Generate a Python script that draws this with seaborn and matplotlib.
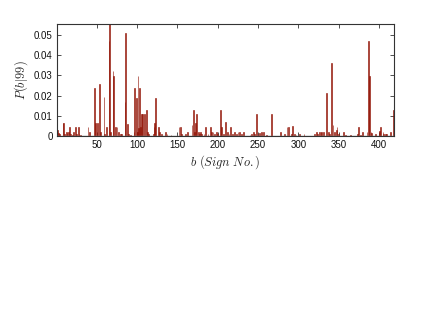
import numpy as np
import pandas as pd
import matplotlib
matplotlib.use("Agg")
import matplotlib.pyplot as plt
import seaborn as sns

# Non-zero probabilities P(b|99) by sign number b (others are zero)
sign_ids = [1, 2, 4, 8, 9, 10, 12, 13, 15, 16, 17, 20, 21, 24, 25, 27, 28, 30, 39, 41,
            47, 48, 51, 53, 55, 59, 60, 62, 65, 66, 67, 70, 71, 73, 75, 77, 79, 81, 85, 86,
            88, 89, 92, 96, 97, 99, 100, 101, 102, 103, 104, 105, 107, 109, 112, 113, 114,
            120, 121, 122, 123, 126, 128, 130, 135, 137, 142, 152, 154, 155, 160, 162, 168,
            170, 171, 172, 174, 176, 177, 179, 180, 183, 185, 188, 191, 192, 194, 196, 198,
            200, 203, 205, 207, 210, 212, 214, 216, 218, 221, 223, 225, 227, 229, 232, 240,
            242, 244, 246, 248, 250, 252, 254, 257, 260, 267, 278, 283, 286, 288, 291, 293,
            295, 297, 301, 307, 320, 322, 324, 326, 328, 329, 331, 335, 337, 339, 341, 343,
            345, 347, 348, 350, 356, 358, 365, 373, 375, 377, 380, 385, 387, 388, 390, 391,
            396, 400, 401, 402, 405, 406, 408, 409, 414, 418]
probs = [0.003, 0.0015, 0.001, 0.0065, 0.0065, 0.001, 0.002, 0.0015, 0.002, 0.0043, 0.001,
         0.0005, 0.002, 0.0043, 0.001, 0.0043, 0.001, 0.0005, 0.0043, 0.002,
         0.0236, 0.0065, 0.0065, 0.0256, 0.002, 0.0192, 0.001, 0.0043, 0.047, 0.0555, 0.002,
         0.032, 0.0297, 0.0043, 0.0043, 0.002, 0.001, 0.001, 0.017, 0.0511,
         0.006, 0.001, 0.0005, 0.002, 0.0236, 0.019, 0.002, 0.0298, 0.004, 0.0236, 0.0043,
         0.0107, 0.0107, 0.0107, 0.0128, 0.002, 0.001,
         0.001, 0.0043, 0.0065, 0.019, 0.0043, 0.002, 0.001, 0.002, 0.001, 0.0005, 0.0043,
         0.0043, 0.001, 0.001, 0.002, 0.0055,
         0.0128, 0.002, 0.0065, 0.0107, 0.002, 0.001, 0.002, 0.001, 0.001, 0.0043, 0.001,
         0.0043, 0.002, 0.002, 0.001, 0.002,
         0.001, 0.0129, 0.0043, 0.001, 0.0069, 0.002, 0.001, 0.0043, 0.001, 0.002, 0.001,
         0.002, 0.002, 0.001, 0.002, 0.0005,
         0.001, 0.002, 0.001, 0.0109, 0.001, 0.0015, 0.0022, 0.002, 0.0005, 0.0109, 0.002,
         0.001, 0.0043, 0.0043, 0.001, 0.0048,
         0.001, 0.0005, 0.001, 0.0012, 0.001, 0.002, 0.001, 0.002, 0.002, 0.002, 0.002,
         0.0214, 0.002, 0.001, 0.036, 0.0054,
         0.002, 0.003, 0.0043, 0.001, 0.002, 0.0005, 0.0005, 0.001, 0.0043, 0.0005, 0.002,
         0.002, 0.0469, 0.0297, 0.002, 0.0015,
         0.001, 0.001, 0.0025, 0.0043, 0.002, 0.001, 0.001, 0.001, 0.002, 0.0129]

n_signs = 418
x_ticks = [50, 100, 150, 200, 250, 300, 350, 400]
y_ticks = [0, 0.01, 0.02, 0.03, 0.04, 0.05]
y_tick_labels = ["0", "0.01", "0.02", "0.03", "0.04", "0.05"]

full = np.zeros(n_signs)
for b, p in zip(sign_ids, probs):
    full[b - 1] = p
df = pd.DataFrame({"b": np.arange(1, n_signs + 1), "p": full})

sns.set_style("ticks")
plt.rcParams["mathtext.fontset"] = "cm"
plt.rcParams["font.family"] = ["Liberation Sans", "DejaVu Sans"]

fig = plt.figure(figsize=(4.36, 3.28), dpi=100)
ax = fig.add_axes([57 / 436, 1 - 136 / 328, (394 - 57) / 436, (136 - 24) / 328])

bar_color = "#921305"
sns.barplot(data=df, x="b", y="p", native_scale=True, color=bar_color,
            width=1.0, linewidth=0.5, edgecolor=bar_color, saturation=1, ax=ax,
            errorbar=None)
for patch in ax.patches:
    patch.set_alpha(0.85)
ax.axhline(0, color="#8a8a8a", lw=1.0, zorder=5)

ax.set_xlim(0.6, 418.6)
ax.set_ylim(0, 0.0554)
ax.set_xticks(x_ticks)
ax.set_xticklabels([str(t) for t in x_ticks])
ax.set_yticks(y_ticks)
ax.set_yticklabels(y_tick_labels)
ax.tick_params(direction="in", length=3, width=0.6, labelsize=7, top=True, right=True,
               colors="#333333", labelcolor="#111111", pad=3)
for s in ax.spines.values():
    s.set_visible(True)
    s.set_color("#333333")
    s.set_linewidth(0.8)

ax.set_xlabel(r"$b\ (Sign\ No.)$", fontsize=9, labelpad=2)
ax.set_ylabel(r"$P(b|99)$", fontsize=9, labelpad=3)

fig.savefig("out.png", dpi=100)
